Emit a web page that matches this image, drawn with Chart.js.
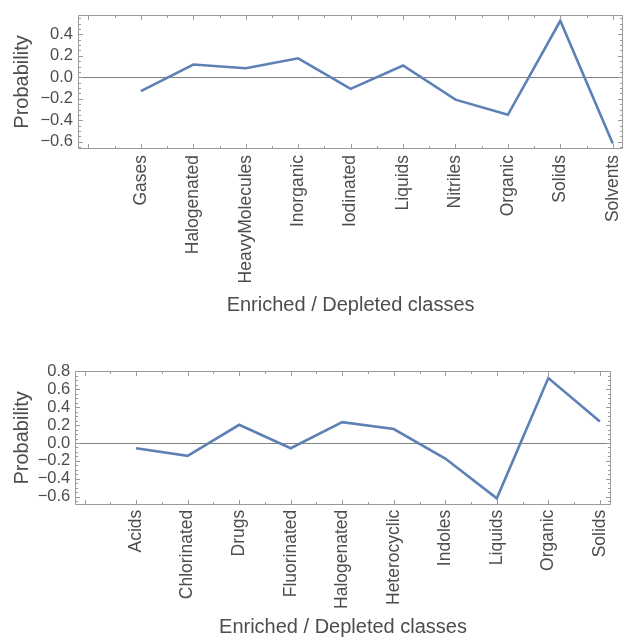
<!DOCTYPE html>
<html><head><meta charset="utf-8">
<script src="https://cdn.jsdelivr.net/npm/chart.js@4/dist/chart.umd.min.js"></script>
<style>
html,body{margin:0;padding:0;background:#fff;overflow:hidden;width:623px;height:639px;position:relative;}
#c1{position:absolute;left:0;top:0;width:640px;height:330px;}
#c2{position:absolute;left:0;top:330px;width:640px;height:309px;}
</style></head><body>
<canvas id="c1" width="640" height="330"></canvas>
<canvas id="c2" width="640" height="309"></canvas>
<script>
// ---- data ----
const topCategories = ['Gases','Halogenated','HeavyMolecules','Inorganic','Iodinated','Liquids','Nitriles','Organic','Solids','Solvents'];
const topValues = [-0.128, 0.119, 0.085, 0.177, -0.107, 0.110, -0.208, -0.349, 0.526, -0.615];
const topYTicks = [-0.6, -0.4, -0.2, 0.0, 0.2, 0.4];

const bottomCategories = ['Acids','Chlorinated','Drugs','Fluorinated','Halogenated','Heterocyclic','Indoles','Liquids','Organic','Solids'];
const bottomValues = [-0.059, -0.144, 0.203, -0.059, 0.233, 0.156, -0.174, -0.619, 0.726, 0.241];
const bottomYTicks = [-0.6, -0.4, -0.2, 0.0, 0.2, 0.4, 0.6, 0.8];

const xTitle = 'Enriched / Depleted classes';
const yTitle = 'Probability';

// ---- styling ----
const FONT = "'Liberation Sans', Arial, Helvetica, sans-serif";
const TEXT = '#4d4d4d';
const LINE = '#5E81B5';
const FRAME = '#9a9a9a';

function fmt(v){
  const s = Math.abs(v).toFixed(1);
  return v < -1e-9 ? '\u2212' + s : s;
}

const framePlugin = {
  id: 'frame',
  beforeDatasetsDraw(chart){
    const {ctx, chartArea:a, scales:{y}} = chart;
    const py = Math.round(y.getPixelForValue(0)) + 0.5;
    ctx.save();
    ctx.strokeStyle = '#808080';
    ctx.lineWidth = 1;
    ctx.beginPath(); ctx.moveTo(a.left, py); ctx.lineTo(a.right, py); ctx.stroke();
    ctx.restore();
  },
  afterDatasetsDraw(chart){
    const {ctx, chartArea:a, scales:{x, y}} = chart;
    ctx.save();
    ctx.strokeStyle = FRAME;
    ctx.lineWidth = 1;
    const L = Math.round(a.left)+0.5, R = Math.round(a.right)-0.5, T = Math.round(a.top)+0.5, B = Math.round(a.bottom)-0.5;
    ctx.beginPath();
    ctx.moveTo(L, T); ctx.lineTo(R, T); ctx.lineTo(R, B); ctx.lineTo(L, B); ctx.closePath();
    ctx.stroke();
    ctx.beginPath();
    // x ticks (major integers, minor halves) on bottom and top
    for (let k = Math.ceil(x.min*2); k <= Math.floor(x.max*2); k++){
      const v = k/2;
      const px = Math.round(x.getPixelForValue(v)) + 0.5;
      const len = (k % 2 === 0) ? 4.5 : 2.5;
      ctx.moveTo(px, B); ctx.lineTo(px, B - len);
      ctx.moveTo(px, T); ctx.lineTo(px, T + len);
    }
    // y ticks (major 0.2, minor 0.05) on left and right
    for (let k = Math.ceil(y.min*20 - 1e-9); k <= Math.floor(y.max*20 + 1e-9); k++){
      const v = k/20;
      const py = Math.round(y.getPixelForValue(v)) + 0.5;
      const len = (k % 4 === 0) ? 4.5 : 2.5;
      ctx.moveTo(L, py); ctx.lineTo(L + len, py);
      ctx.moveTo(R, py); ctx.lineTo(R - len, py);
    }
    ctx.stroke();
    ctx.restore();
  }
};

function makeChart(id, cats, vals, yTicks, geo){
  return new Chart(document.getElementById(id), {
    type: 'line',
    data: {
      datasets: [{
        data: cats.map((c, i) => ({x: i, y: vals[i]})),
        borderColor: LINE,
        borderWidth: 2.6,
        pointRadius: 0,
        tension: 0,
        fill: false
      }]
    },
    options: {
      responsive: false,
      animation: false,
      devicePixelRatio: 1,
      layout: { autoPadding: false, padding: {left: 0, right: geo.right, top: geo.top, bottom: 0} },
      plugins: { legend: {display: false}, tooltip: {enabled: false} },
      scales: {
        x: {
          type: 'linear',
          min: geo.xmin, max: geo.xmax,
          grid: {display: false, drawTicks: false},
          border: {display: false},
          afterBuildTicks: s => { s.ticks = cats.map((c, i) => ({value: i})); },
          afterFit: s => { s.height = geo.xh; },
          ticks: {
            autoSkip: false, minRotation: 90, maxRotation: 90,
            padding: geo.xpad,
            color: TEXT,
            font: {family: FONT, size: 17.5},
            callback: v => cats[Math.round(v)]
          },
          title: {
            display: true, text: xTitle, color: TEXT,
            font: {family: FONT, size: 20, lineHeight: 1.2},
            padding: {top: 0, bottom: geo.titleBottom}
          }
        },
        y: {
          type: 'linear',
          min: geo.ymin, max: geo.ymax,
          grid: {display: false, drawTicks: false},
          border: {display: false},
          afterBuildTicks: s => { s.ticks = yTicks.map(v => ({value: v})); },
          afterFit: s => { s.width = geo.yw; },
          ticks: {
            autoSkip: false,
            padding: 5,
            color: TEXT,
            font: {family: FONT, size: 16.5},
            callback: v => fmt(v)
          },
          title: {
            display: true, text: yTitle, color: TEXT,
            font: {family: FONT, size: 20, lineHeight: 1.2},
            padding: {top: 10, bottom: 0}
          }
        }
      }
    },
    plugins: [framePlugin]
  });
}

makeChart('c1', topCategories, topValues, topYTicks, {
  top: 13, right: 14, xh: 181, yw: 78, xpad: 6, titleBottom: 13,
  xmin: -1.2, xmax: 9.2, ymin: -0.667, ymax: 0.581
});
makeChart('c2', bottomCategories, bottomValues, bottomYTicks, {
  top: 41, right: 29.3, xh: 134.3, yw: 75.3, xpad: 5, titleBottom: 0,
  xmin: -1.18, xmax: 9.21, ymin: -0.69, ymax: 0.805
});
</script>
</body></html>
